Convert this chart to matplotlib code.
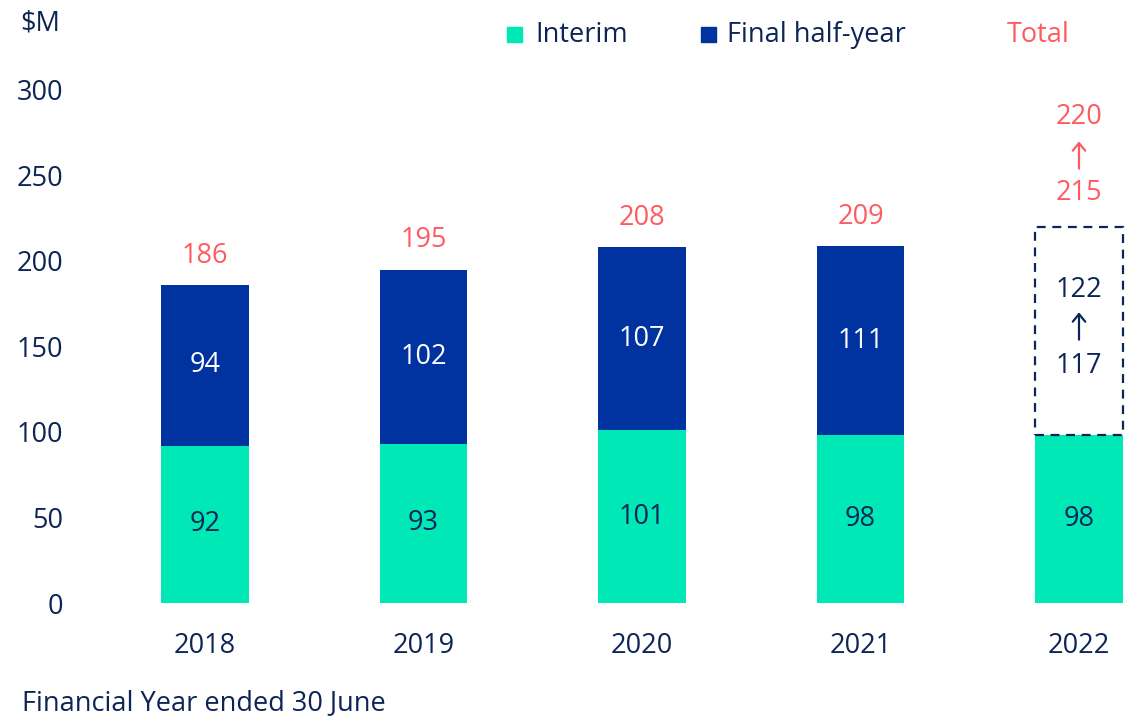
import matplotlib.pyplot as plt
from matplotlib.patches import Rectangle

plt.rcParams['font.family'] = ['Open Sans', 'DejaVu Sans']

years = ['2018', '2019', '2020', '2021', '2022']
interim = [92, 93, 101, 98, 98]
final_half = [94, 102, 107, 111]
totals = [186, 195, 208, 209]
final_2022 = (117, 122)
total_2022 = (215, 220)

teal = '#00e8b6'
navy = '#0033a0'
text_navy = '#0d2556'
red = '#ff5a5f'
fs = 19.5

fig = plt.figure(figsize=(11.32, 7.18), dpi=100)
ax = fig.add_axes([100 / 1132, 115 / 718, 1032 / 1132, 513 / 718])

x = list(range(len(years)))
w = 0.4
ax.bar(x, interim, width=w, color=teal)
ax.bar(x[:4], final_half, bottom=interim[:4], width=w, color=navy)

for i in x:
    ax.text(i, interim[i] / 2, str(interim[i]), ha='center', va='center',
            fontsize=fs, color=text_navy)
for i in range(4):
    ax.text(i, interim[i] + final_half[i] / 2, str(final_half[i]), ha='center',
            va='center', fontsize=fs, color='white')
    ax.text(i, totals[i] + 17, str(totals[i]), ha='center', va='center',
            fontsize=fs, color=red)


def up_arrow(xc, yc, color):
    ax.annotate('', xy=(xc, yc + 8), xytext=(xc, yc - 8),
                arrowprops=dict(arrowstyle='->,head_length=0.55,head_width=0.45',
                                color=color, lw=1.6, shrinkA=0, shrinkB=0))


# 2022 guidance range
i = 4
ax.add_patch(Rectangle((i - w / 2, interim[i]), w, final_2022[1], fill=False,
                       edgecolor=text_navy, linestyle=(0, (4, 3)), linewidth=1.6))
ax.text(i, 183, str(final_2022[1]), ha='center', va='center', fontsize=fs, color=text_navy)
up_arrow(i, 162, text_navy)
ax.text(i, 138.5, str(final_2022[0]), ha='center', va='center', fontsize=fs, color=text_navy)
ax.text(i, 284.5, str(total_2022[1]), ha='center', va='center', fontsize=fs, color=red)
up_arrow(i, 262, red)
ax.text(i, 240, str(total_2022[0]), ha='center', va='center', fontsize=fs, color=red)

ax.set_xlim(-105 / 218.5, 927 / 218.5)
ax.set_ylim(0, 300)
ax.set_yticks(range(0, 301, 50))
ax.set_xticks(x)
ax.set_xticklabels(years)
ax.tick_params(length=0, labelsize=fs, labelcolor=text_navy)
ax.tick_params(axis='y', pad=26.5)
ax.tick_params(axis='x', pad=21)
for s in ax.spines.values():
    s.set_visible(False)

fig.text(20 / 1132, 1 - 24 / 718, '$M', fontsize=fs, color=text_navy, va='center')
fig.text(22 / 1132, 1 - 703 / 718, 'Financial Year ended 30 June', fontsize=fs,
         color=text_navy, va='center')

# legend
fig.patches.append(Rectangle((507 / 1132, 1 - 42 / 718), 15 / 1132, 15 / 718,
                             color=teal, transform=fig.transFigure))
fig.text(535 / 1132, 1 - 35 / 718, 'Interim', fontsize=fs, color=text_navy, va='center')
fig.patches.append(Rectangle((701 / 1132, 1 - 42 / 718), 15 / 1132, 15 / 718,
                             color=navy, transform=fig.transFigure))
fig.text(727 / 1132, 1 - 35 / 718, 'Final half-year', fontsize=fs, color=text_navy, va='center')
fig.text(1007 / 1132, 1 - 35 / 718, 'Total', fontsize=fs, color=red, va='center')

fig.savefig('out.png', dpi=100)
